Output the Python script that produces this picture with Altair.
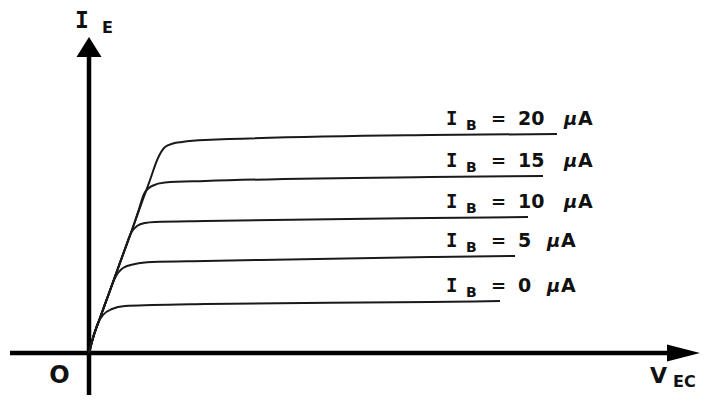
import altair as alt
import pandas as pd

# Base current of each curve (µA)
ib_values = [20, 15, 10, 5, 0]

# V_EC (arbitrary units) and I_E (arbitrary units)
vec_20 = [0, 0.4, 1.1, 1.9, 2.8, 3.6, 4.3, 5.3, 6.1, 6.9, 7.6, 8.4, 9.3, 11.6, 34.1, 46.8]
ie_20 = [0, 1.5, 3.5, 5.7, 8.2, 10.4, 12.3, 15.1, 17.3, 19.5, 20.6, 20.95, 21.1, 21.3, 21.8, 21.9]

vec_15 = [0, 0.4, 1.1, 1.9, 2.8, 3.6, 4.3, 5.0, 5.5, 6.3, 7.6, 11.6, 34.1, 45.4]
ie_15 = [0, 1.5, 3.5, 5.7, 8.2, 10.4, 12.3, 14.4, 15.9, 16.7, 17.05, 17.2, 17.6, 17.7]

vec_10 = [0, 0.4, 1.1, 1.9, 2.8, 3.6, 4.2, 4.8, 5.6, 6.6, 11.6, 34.1, 43.9]
ie_10 = [0, 1.5, 3.5, 5.7, 8.2, 10.4, 12.0, 12.7, 13.0, 13.1, 13.2, 13.5, 13.6]

vec_5 = [0, 0.4, 1.1, 1.9, 2.6, 3.4, 4.6, 6.3, 11.6, 34.1, 42.6]
ie_5 = [0, 1.5, 3.5, 5.7, 7.5, 8.5, 8.9, 9.1, 9.2, 9.6, 9.7]

vec_0 = [0, 0.4, 0.9, 1.4, 2.3, 3.6, 6.3, 11.6, 34.1, 41.1]
ie_0 = [0, 1.5, 3.0, 3.8, 4.4, 4.7, 4.8, 4.9, 5.1, 5.2]

curves = {20: (vec_20, ie_20), 15: (vec_15, ie_15), 10: (vec_10, ie_10),
          5: (vec_5, ie_5), 0: (vec_0, ie_0)}

rows = []
for ib in ib_values:
    vx, vy = curves[ib]
    for i, (a, b) in enumerate(zip(vx, vy)):
        rows.append({"ib": ib, "vec": a, "ie": b, "ord": i})
curve_df = pd.DataFrame(rows)

# layout constants (data units)
X_MIN, X_MAX = -8.1, 61.6
Y_MIN, Y_MAX = -4.2, 34.5
LABEL_X = 35.8

lab_rows = []
for ib in ib_values:
    vx, vy = curves[ib]
    lab_rows.append({"ib": ib, "num": str(ib), "x": LABEL_X, "y": vy[-1] + 0.95,
                     "two": len(str(ib)) == 2})
lab_df = pd.DataFrame(lab_rows)

XS = alt.Scale(domain=[X_MIN, X_MAX], nice=False, zero=False)
YS = alt.Scale(domain=[Y_MIN, Y_MAX], nice=False, zero=False)


def enc(xf="x", yf="y"):
    return dict(x=alt.X(xf, type="quantitative", scale=XS, axis=None),
                y=alt.Y(yf, type="quantitative", scale=YS, axis=None))


curve_layer = alt.Chart(curve_df).mark_line(
    color="#1a1a1a", strokeWidth=2, interpolate="monotone"
).encode(
    x=alt.X("vec:Q", scale=XS, axis=None),
    y=alt.Y("ie:Q", scale=YS, axis=None),
    detail="ib:N",
    order="ord:Q",
)

yaxis = alt.Chart(pd.DataFrame([{"x": 0, "y": Y_MIN, "y2": 29.6}])).mark_rule(
    color="black", strokeWidth=4.5
).encode(**enc(), y2="y2:Q")

xaxis = alt.Chart(pd.DataFrame([{"x": -7.9, "x2": 57.8, "y": 0}])).mark_rule(
    color="black", strokeWidth=4.5
).encode(**enc(), x2="x2:Q")

yarrow = alt.Chart(pd.DataFrame([{"x": 0, "y": 30.6}])).mark_point(
    shape="M0,-1L1.25,1L-1.25,1Z", size=400, filled=True, color="black", opacity=1
).encode(**enc())

xarrow = alt.Chart(pd.DataFrame([{"x": 59.45, "y": 0}])).mark_point(
    shape="M1,0L-1,-0.52L-1,0.52Z", size=1089, filled=True, color="black", opacity=1
).encode(**enc())

SANS = "DejaVu Sans"
MONO = "DejaVu Sans Mono"


def txt(df, text, font, size, dx=0, dy=0, align="left", style="normal", weight="bold"):
    return alt.Chart(df).mark_text(
        font=font, fontSize=size, align=align, baseline="alphabetic",
        dx=dx, dy=dy, color="#111111", fontStyle=style, fontWeight=weight
    ).encode(**enc(), text=text)


lbl_IE_I = txt(pd.DataFrame([{"x": -1.4, "y": 32.5}]), alt.value("I"), MONO, 23)
lbl_IE_E = txt(pd.DataFrame([{"x": 1.3, "y": 32.0}]), alt.value("E"), SANS, 16)
lbl_O = txt(pd.DataFrame([{"x": -2.95, "y": -3.0}]), alt.value("O"), SANS, 24, align="center")
lbl_V = txt(pd.DataFrame([{"x": 56.1, "y": -3.0}]), alt.value("V"), SANS, 22)
lbl_EC = txt(pd.DataFrame([{"x": 58.4, "y": -3.4}]), alt.value("EC"), SANS, 16)

p_I = txt(lab_df, alt.value("I"), MONO, 19, dx=-1)
p_B = txt(lab_df, alt.value("B"), SANS, 14, dx=19, dy=5)
p_eq = txt(lab_df, alt.value("="), SANS, 18, dx=44)
p_num = txt(lab_df, "num:N", SANS, 19, dx=71)
p_mu2 = txt(lab_df[lab_df["two"]], alt.value("µ"), SANS, 18, dx=117, style="italic")
p_A2 = txt(lab_df[lab_df["two"]], alt.value("A"), SANS, 19, dx=131)
p_mu1 = txt(lab_df[~lab_df["two"]], alt.value("µ"), SANS, 18, dx=100, style="italic")
p_A1 = txt(lab_df[~lab_df["two"]], alt.value("A"), SANS, 19, dx=114)

chart = alt.layer(
    xaxis, yaxis, xarrow, yarrow, curve_layer,
    lbl_IE_I, lbl_IE_E, lbl_O, lbl_V, lbl_EC,
    p_I, p_B, p_eq, p_num, p_mu2, p_A2, p_mu1, p_A1,
).properties(
    width=697, height=387, padding=0,
    autosize=alt.AutoSizeParams(type="none"),
    background="white",
).configure_view(stroke=None)

chart.save("out.html", embed_options={"renderer": "svg", "actions": False})
